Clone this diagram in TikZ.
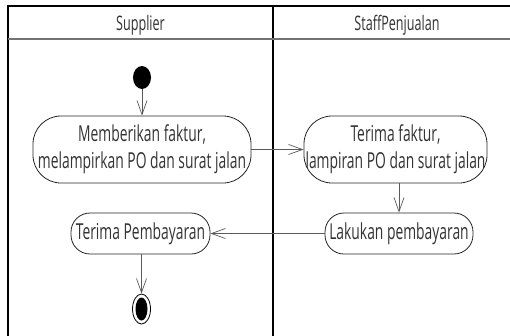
\documentclass[tikz,border=0pt]{standalone}
\usepackage{fontspec}
\setmainfont[FakeStretch=0.63]{Open Sans}
\usetikzlibrary{arrows.meta,shapes.geometric}
\definecolor{linegray}{RGB}{90,90,90}
\tikzset{
  act/.style={draw=black!85, line width=0.8pt, rounded corners=28pt, inner sep=0pt,
              align=center, font=\fontsize{22}{27}\selectfont, text=black!80},
  flow/.style={draw=linegray, line width=0.7pt, -{Straight Barb[length=14pt,width=10pt,line width=0.7pt]}},
  lane/.style={draw=black, line width=1.2pt},
  hdr/.style={font=\fontsize{20}{22}\selectfont, text=black!80, anchor=base}
}
\begin{document}
\begin{tikzpicture}[x=1pt,y=-1pt]
\useasboundingbox (0,0) rectangle (510,335);
\fill[white] (0,0) rectangle (510,335);
% swimlanes
\draw[lane] (8,337) -- (8,6) -- (512,6);
\draw[lane] (273,6) -- (273,337);
\draw[draw=black!55, line width=1.2pt] (8,39) -- (512,39);
\node[hdr] (h1) at (140.5,30) {Supplier};
\node[hdr] (h2) at (397,30) {StaffPenjualan};
% start
\node[fill=black, ellipse, minimum width=18pt, minimum height=23pt, inner sep=0pt] (start) at (142,77.5) {};
% activities
\node[act, minimum width=218pt, minimum height=67pt] (n1) at (142,149.5) {Memberikan faktur,\\melampirkan PO dan surat jalan};
\node[act, minimum width=183pt, minimum height=67pt] (n2) at (395.5,149.5) {Terima faktur,\\lampiran PO dan surat jalan};
\node[act, rounded corners=19pt, minimum width=139pt, minimum height=41pt] (n3) at (140.5,233.5) {Terima Pembayaran};
\node[act, rounded corners=19pt, minimum width=148pt, minimum height=41pt] (n4) at (399,233.5) {Lakukan pembayaran};
% end
\node[draw=black, line width=0.8pt, ellipse, minimum width=18pt, minimum height=30pt, inner sep=0pt] (end) at (141.5,309) {};
\node[fill=black, ellipse, minimum width=12pt, minimum height=23pt, inner sep=0pt] (endin) at (141.5,309) {};
% flows
\draw[flow] (start) -- (n1);
\draw[flow] (n1.east) -- (n2.west);
\draw[flow] (n2.south -| n4.north) -- (n4.north);
\draw[flow] (n4.west) -- (n3.east);
\draw[flow] (n3.south -| end.north) -- (end.north);
\end{tikzpicture}
\end{document}
